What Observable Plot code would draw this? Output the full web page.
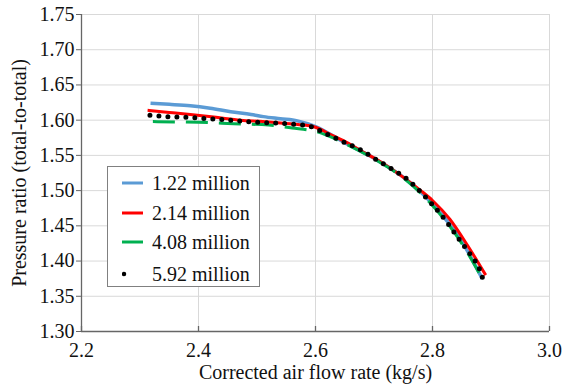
<!DOCTYPE html>
<html>
<head>
<meta charset="utf-8">
<script src="https://cdn.jsdelivr.net/npm/d3@7"></script>
<script src="https://cdn.jsdelivr.net/npm/@observablehq/plot@0.6"></script>
<style>
  body { margin: 0; background: #fff; }
  #wrap { position: relative; width: 562px; height: 389px; font-family: "Liberation Serif", "Times New Roman", serif; }
  #wrap svg text { font-family: "Liberation Serif", "Times New Roman", serif !important; font-variant: normal !important; font-variant-numeric: normal !important; }
  #legend { position: absolute; left: 107px; top: 166px; width: 153px; height: 121px; border: 1px solid #808080; background: #fff; box-sizing: border-box; }
  .row { position: absolute; left: 0; height: 24px; display: flex; align-items: center; font-size: 20px; color: #111; white-space: nowrap; }
  .row svg { margin-left: 14px; margin-right: 8px; }
</style>
</head>
<body>
<div id="wrap"></div>
<script>
// ---- data ----
const xTicks = [2.2, 2.4, 2.6, 2.8, 3.0];
const yTicks = [1.30, 1.35, 1.40, 1.45, 1.50, 1.55, 1.60, 1.65, 1.70, 1.75];
const xTitle = "Corrected air flow rate (kg/s)";
const yTitle = "Pressure ratio (total-to-total)";
const seriesNames = ["1.22 million", "2.14 million", "4.08 million", "5.92 million"];

const blueX = [2.318, 2.35, 2.386, 2.42, 2.455, 2.49, 2.511, 2.54, 2.569, 2.60, 2.65, 2.70, 2.75, 2.80, 2.85, 2.885];
const blueY = [1.624, 1.6225, 1.6205, 1.617, 1.612, 1.608, 1.605, 1.602, 1.599, 1.591, 1.568, 1.546, 1.519, 1.481, 1.428, 1.375];

const redX = [2.313, 2.35, 2.386, 2.43, 2.472, 2.51, 2.54, 2.57, 2.60, 2.625, 2.65, 2.677, 2.711, 2.745, 2.78, 2.80, 2.83, 2.86, 2.891];
const redY = [1.614, 1.611, 1.608, 1.604, 1.600, 1.598, 1.596, 1.594, 1.590, 1.580, 1.570, 1.557, 1.541, 1.522, 1.500, 1.486, 1.459, 1.422, 1.380];

const greenX = [2.322, 2.36, 2.40, 2.46, 2.52, 2.56, 2.60, 2.65, 2.70, 2.75, 2.80, 2.85, 2.887];
const greenY = [1.598, 1.5975, 1.597, 1.595, 1.593, 1.589, 1.584, 1.567, 1.545, 1.518, 1.479, 1.425, 1.372];

const dotX = [2.317, 2.348, 2.380, 2.41, 2.44, 2.47, 2.50, 2.53, 2.56, 2.591, 2.62, 2.648, 2.677, 2.70, 2.728, 2.754, 2.78, 2.80, 2.822, 2.848, 2.865, 2.882, 2.887];
const dotY = [1.607, 1.605, 1.604, 1.6025, 1.601, 1.599, 1.597, 1.596, 1.5945, 1.591, 1.580, 1.569, 1.558, 1.546, 1.532, 1.518, 1.498, 1.480, 1.458, 1.428, 1.409, 1.385, 1.372];

// ---- styles ----
const styles = [
  {color: "#5b9bd5", width: 3.5, dash: null, cap: "butt"},
  {color: "#ff0000", width: 3, dash: null, cap: "butt"},
  {color: "#00b050", width: 3, dash: "22 11", cap: "butt"},
  {color: "#000000", width: 5, dash: "0 9", cap: "round"}
];

const toRows = (xs, ys) => xs.map((x, i) => ({x, y: ys[i]}));
const series = [toRows(blueX, blueY), toRows(redX, redY), toRows(greenX, greenY), toRows(dotX, dotY)];

const gridColor = "#d9d9d9";
const axisColor = "#666666";
const serif = '"Liberation Serif", "Times New Roman", serif';

const chart = Plot.plot({
  width: 562,
  height: 389,
  marginLeft: 81,
  marginRight: 13,
  marginTop: 14,
  marginBottom: 58,
  style: {fontFamily: serif, fontSize: "20px", color: "#111", background: "#fff"},
  x: {domain: [xTicks[0], xTicks[xTicks.length - 1]]},
  y: {domain: [yTicks[0], yTicks[yTicks.length - 1]]},
  marks: [
    Plot.ruleY(yTicks, {stroke: gridColor, strokeWidth: 1}),
    Plot.ruleX(xTicks, {stroke: gridColor, strokeWidth: 1}),
    ...series.map((data, i) => Plot.line(data, {
      x: "x", y: "y", curve: "monotone-x",
      stroke: styles[i].color, strokeWidth: styles[i].width,
      strokeDasharray: styles[i].dash, strokeLinecap: styles[i].cap
    })),
    Plot.ruleX([xTicks[0]], {stroke: axisColor, strokeWidth: 1.3}),
    Plot.ruleY([yTicks[0]], {stroke: axisColor, strokeWidth: 1.3}),
    Plot.ruleX(xTicks, {y1: yTicks[0], y2: yTicks[0], insetTop: -5, stroke: axisColor, strokeWidth: 1.3}),
    Plot.axisY({ticks: yTicks, tickFormat: d3.format(".2f"), tickSize: 5, tickPadding: 2, label: null, stroke: axisColor, fill: "#111", fontSize: 20, fontFamily: serif, fontVariant: "normal"}),
    Plot.axisX({ticks: xTicks, tickFormat: d3.format(".1f"), tickSize: 0, tickPadding: 11, label: null, fill: "#111", fontSize: 20, fontFamily: serif, fontVariant: "normal"}),
    Plot.text([xTitle], {text: d => d, frameAnchor: "bottom", dy: 47, fill: "#111", fontSize: 20, fontFamily: serif}),
    Plot.text([yTitle], {text: d => d, frameAnchor: "left", textAnchor: "middle", dx: -62, rotate: -90, fill: "#111", fontSize: 20, fontFamily: serif})
  ]
});

const wrap = document.getElementById("wrap");
wrap.appendChild(chart);

// legend
const legend = document.createElement("div");
legend.id = "legend";
const rowTops = [4, 34, 63, 95];
seriesNames.forEach((name, i) => {
  const row = document.createElement("div");
  row.className = "row";
  row.style.top = rowTops[i] + "px";
  const s = styles[i];
  const svgNS = "http://www.w3.org/2000/svg";
  const svg = document.createElementNS(svgNS, "svg");
  svg.setAttribute("width", 22);
  svg.setAttribute("height", 10);
  const ln = document.createElementNS(svgNS, "line");
  if (i === 3) {
    ln.setAttribute("x1", 2); ln.setAttribute("x2", 13);
    ln.setAttribute("stroke-dasharray", "0 11");
  } else {
    ln.setAttribute("x1", 0); ln.setAttribute("x2", 21);
  }
  ln.setAttribute("y1", 5); ln.setAttribute("y2", 5);
  ln.setAttribute("stroke", s.color);
  ln.setAttribute("stroke-width", i === 3 ? 4.5 : 3);
  ln.setAttribute("stroke-linecap", s.cap);
  svg.appendChild(ln);
  row.appendChild(svg);
  const span = document.createElement("span");
  span.textContent = name;
  row.appendChild(span);
  legend.appendChild(row);
});
wrap.appendChild(legend);
</script>
</body>
</html>
